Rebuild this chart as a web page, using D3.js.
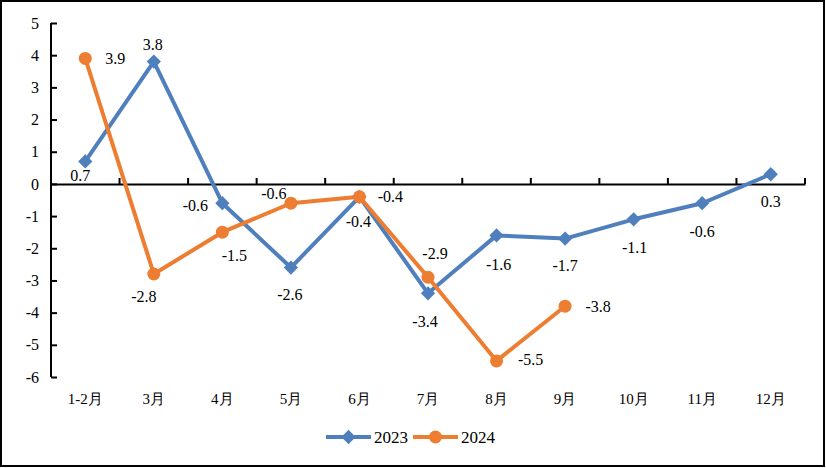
<!DOCTYPE html>
<html>
<head>
<meta charset="utf-8">
<script src="https://cdn.jsdelivr.net/npm/d3@7"></script>
<style>
  body { margin: 0; background: #fff; }
  svg { display: block; }
  text { font-family: "Liberation Serif", "Times New Roman", serif; fill: #000; }
</style>
</head>
<body>
<svg id="chart" width="826" height="468"></svg>
<script>
const months = ["1-2月", "3月", "4月", "5月", "6月", "7月", "8月", "9月", "10月", "11月", "12月"];
const values2023 = [0.7, 3.8, -0.6, -2.6, -0.4, -3.4, -1.6, -1.7, -1.1, -0.6, 0.3];
const values2024 = [3.9, -2.8, -1.5, -0.6, -0.4, -2.9, -5.5, -3.8];
const yTicks = [5, 4, 3, 2, 1, 0, -1, -2, -3, -4, -5, -6];
const seriesNames = ["2023", "2024"];

// label offsets (dx, dy) from each point
const off2023 = [[-5, 14], [-1, -17], [-27, 2], [-1, 27], [-1, 25], [-3, 28], [2, 29], [0, 27], [1, 28], [0, 28], [0, 27]];
const off2024 = [[30, 0], [-10, 22], [12, 23], [-17, -10], [31, 0], [7, -24], [34, -1], [33, 0]];

const svg = d3.select("#chart");
const blue = "#4f7fbd", orange = "#ed7d31";

// outer frame
svg.append("rect").attr("x", 1).attr("y", 1).attr("width", 823).attr("height", 465)
  .attr("fill", "none").attr("stroke", "#000").attr("stroke-width", 2);

const margin = {top: 23, left: 51, right: 21, bottom: 91};
const width = 826 - margin.left - margin.right,
      height = 468 - margin.top - margin.bottom;

const g = svg.append("g").attr("transform", `translate(${margin.left},${margin.top})`);

const x = d3.scaleBand().domain(months).range([0, width]).paddingInner(0).paddingOuter(0);
const y = d3.scaleLinear().domain([-6, 5]).range([height, 0]);

// y axis
const yAxis = g.append("g").call(d3.axisLeft(y).tickValues(yTicks).tickSize(-6).tickPadding(12).tickFormat(d => String(d)));
yAxis.select(".domain").attr("stroke-width", 2).attr("d", `M0,0V${height}`);
yAxis.selectAll(".tick line").attr("stroke-width", 2);
yAxis.selectAll(".tick text").attr("font-size", 16).style("font-family", "Liberation Serif, serif");

// x axis along zero
const xAxis = g.append("g").attr("transform", `translate(0,${y(0)})`)
  .call(d3.axisBottom(x).tickSize(0).tickFormat(""));
xAxis.select(".domain").attr("stroke-width", 2);
const boundaries = d3.range(months.length + 1).map(i => i * x.bandwidth());
xAxis.selectAll("line.bound").data(boundaries).enter().append("line")
  .attr("class", "bound")
  .attr("x1", d => d).attr("x2", d => d).attr("y1", 0).attr("y2", -6)
  .attr("stroke", "#000").attr("stroke-width", 2);

// month labels at bottom
g.selectAll("text.month").data(months).enter().append("text")
  .attr("class", "month")
  .attr("x", d => x(d) + x.bandwidth() / 2)
  .attr("y", height + 27)
  .attr("text-anchor", "middle")
  .attr("font-size", 15)
  .text(d => d);

function cx(i) { return x(months[i]) + x.bandwidth() / 2; }

const line = d3.line().x((d, i) => cx(i)).y(d => y(d));

g.append("path").datum(values2023).attr("d", line)
  .attr("fill", "none").attr("stroke", blue).attr("stroke-width", 4).attr("stroke-linejoin", "round");
g.append("path").datum(values2024).attr("d", line)
  .attr("fill", "none").attr("stroke", orange).attr("stroke-width", 4).attr("stroke-linejoin", "round");

const diamond = d3.symbol().type(d3.symbolDiamond2).size(130);

g.selectAll("path.m2023").data(values2023).enter().append("path")
  .attr("class", "m2023")
  .attr("d", diamond)
  .attr("transform", (d, i) => `translate(${cx(i)},${y(d)})`)
  .attr("fill", blue);

g.selectAll("circle.m2024").data(values2024).enter().append("circle")
  .attr("class", "m2024")
  .attr("cx", (d, i) => cx(i)).attr("cy", d => y(d)).attr("r", 6.5)
  .attr("fill", orange);

const fmt = d => d.toFixed(1);
g.selectAll("text.l2023").data(values2023).enter().append("text")
  .attr("class", "l2023")
  .attr("x", (d, i) => cx(i) + off2023[i][0])
  .attr("y", (d, i) => y(d) + off2023[i][1])
  .attr("text-anchor", "middle").attr("dominant-baseline", "central")
  .attr("font-size", 16)
  .text(d => fmt(d));

g.selectAll("text.l2024").data(values2024).enter().append("text")
  .attr("class", "l2024")
  .attr("x", (d, i) => cx(i) + off2024[i][0])
  .attr("y", (d, i) => y(d) + off2024[i][1])
  .attr("text-anchor", "middle").attr("dominant-baseline", "central")
  .attr("font-size", 16)
  .text(d => fmt(d));

// legend
const legend = svg.append("g").attr("transform", "translate(326,437)");
const legItems = legend.selectAll("g").data(seriesNames).enter().append("g")
  .attr("transform", (d, i) => `translate(${i * 87},0)`);
legItems.append("line").attr("x1", 0).attr("x2", 45).attr("y1", 0).attr("y2", 0)
  .attr("stroke", (d, i) => i === 0 ? blue : orange).attr("stroke-width", 4);
legItems.each(function(d, i) {
  const s = d3.select(this);
  if (i === 0) {
    s.append("path").attr("d", diamond).attr("transform", "translate(22.5,0)").attr("fill", blue);
  } else {
    s.append("circle").attr("cx", 22.5).attr("cy", 0).attr("r", 6.5).attr("fill", orange);
  }
});
legItems.append("text").attr("x", 48).attr("y", 0).attr("dominant-baseline", "central")
  .attr("font-size", 17).text(d => d);
</script>
</body>
</html>
